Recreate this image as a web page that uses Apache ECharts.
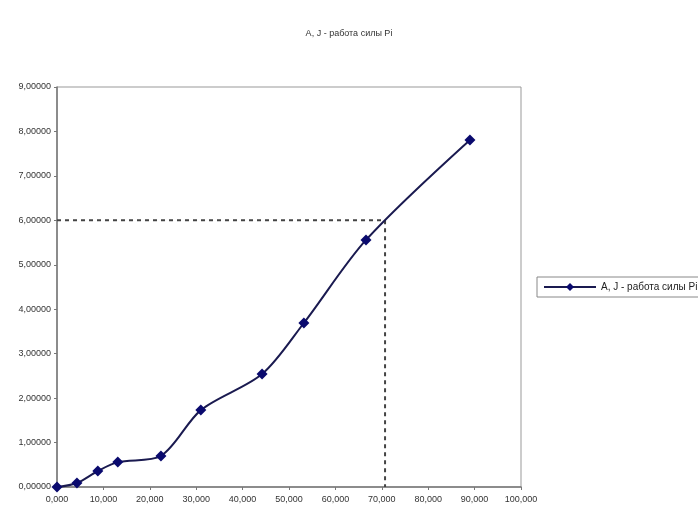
<!DOCTYPE html>
<html><head><meta charset="utf-8">
<script src="https://cdn.jsdelivr.net/npm/echarts@6/dist/echarts.min.js"></script>
<style>html,body{margin:0;padding:0;background:#fff}#c{width:698px;height:517px}</style>
</head><body><div id="c"></div>
<script>
var seriesName = 'A, J - работа силы Pi';
var xValues = [0, 4.3, 8.8, 13.1, 22.4, 31.0, 44.2, 53.2, 66.6, 89.0];
var yValues = [0, 0.09, 0.36, 0.56, 0.70, 1.73, 2.54, 3.69, 5.56, 7.81];
var guideX = [0, 70.7, 70.7];
var guideY = [6, 6, 0];

var FONT = '"Liberation Sans Narrow","Arial Narrow","Liberation Sans",sans-serif';
function fmt(v, d){ return v.toFixed(d).replace('.', ','); }

var chart = echarts.init(document.getElementById('c'));
chart.setOption({
  animation: false,
  backgroundColor: '#fff',
  title: {
    text: seriesName, left: 'center', top: 24,
    textStyle: {fontFamily: FONT, fontSize: 9, fontWeight: 'normal', color: '#333'}
  },
  legend: {
    data: [seriesName],
    left: 537, top: 277,
    padding: [5, 8, 5, 6],
    borderColor: '#888', borderWidth: 1,
    itemWidth: 52, itemHeight: 10, itemGap: 4,
    textStyle: {fontFamily: FONT, fontSize: 10, color: '#222'}
  },
  grid: {left: 57, top: 87, right: 177, bottom: 30, show: true, borderColor: '#999', borderWidth: 1},
  xAxis: {
    type: 'value', min: 0, max: 100, interval: 10,
    axisLine: {lineStyle: {color: '#777', width: 1.5}},
    axisTick: {show: true, lineStyle: {color: '#777'}, length: 3},
    splitLine: {show: false},
    axisLabel: {fontFamily: FONT, fontSize: 9, color: '#333', margin: 8, formatter: function(v){return fmt(v,3);}}
  },
  yAxis: {
    type: 'value', min: 0, max: 9, interval: 1,
    axisLine: {show: true, lineStyle: {color: '#777', width: 1.5}},
    axisTick: {show: true, lineStyle: {color: '#777'}, length: 3},
    splitLine: {show: false},
    axisLabel: {fontFamily: FONT, fontSize: 9, color: '#333', margin: 6, formatter: function(v){return fmt(v,5);}}
  },
  series: [
    {
      name: 'guide', type: 'line', silent: true,
      data: guideX.map(function(x,i){return [x, guideY[i]];}),
      symbol: 'none',
      lineStyle: {color: '#444', width: 2, type: [4, 4]},
      z: 1
    },
    {
      name: seriesName, type: 'line',
      data: xValues.map(function(x,i){return [x, yValues[i]];}),
      smooth: 0.3,
      symbol: 'diamond', symbolSize: 11,
      itemStyle: {color: '#0a0a6e'},
      lineStyle: {color: '#1a1a50', width: 2},
      z: 3
    }
  ]
});
</script></body></html>
